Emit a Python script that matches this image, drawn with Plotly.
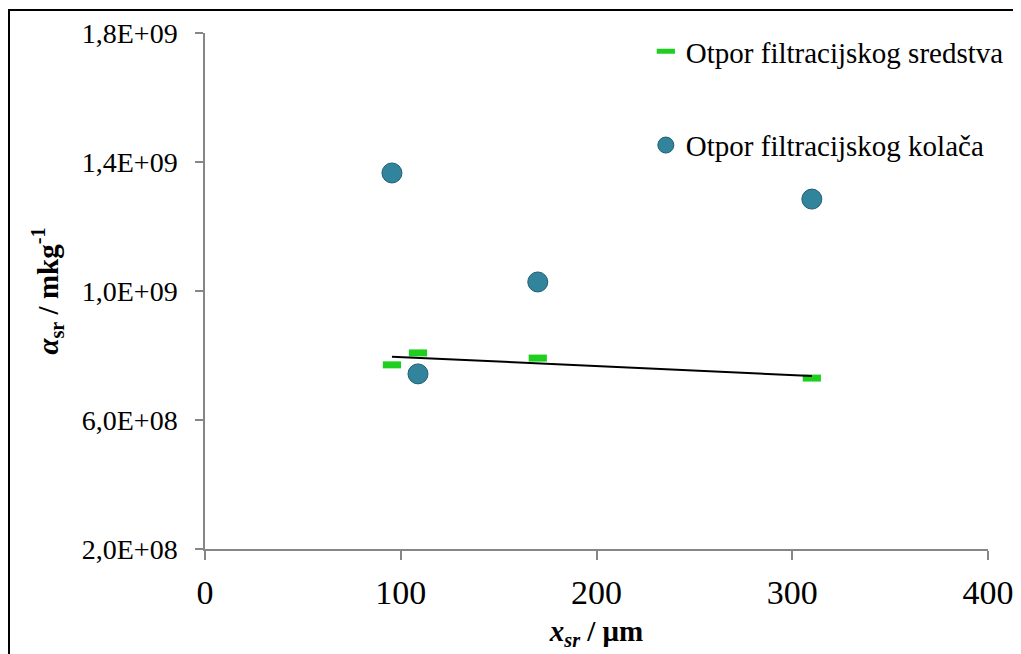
import numpy as np
import plotly.graph_objects as go

# Data
x_medium = [95.5, 108.8, 170.0, 310.0]
y_medium = [7.71e8, 8.08e8, 7.92e8, 7.30e8]
x_cake = [95.5, 108.8, 170.0, 310.0]
y_cake = [1.366e9, 7.43e8, 1.028e9, 1.285e9]

y_tickvals = [2e8, 6e8, 1e9, 1.4e9, 1.8e9]
y_ticktext = ["2,0E+08", "6,0E+08", "1,0E+09", "1,4E+09", "1,8E+09"]
x_tickvals = [0, 100, 200, 300, 400]

name_medium = "Otpor filtracijskog sredstva"
name_cake = "Otpor filtracijskog kolača"

# Linear trendline (least squares) through the filter-medium series
coef = np.polyfit(x_medium, y_medium, 1)
trend_x = [min(x_medium), max(x_medium)]
trend_y = [float(np.polyval(coef, v)) for v in trend_x]

FONT = "'Liberation Serif', 'Times New Roman', serif"
AXIS_COLOR = "#868686"

fig = go.Figure()
fig.add_trace(go.Scatter(
    x=x_medium, y=y_medium, mode="markers", name=name_medium,
    legendgroup="a",
    marker=dict(symbol="line-ew", size=13, color="#1FCF1F",
                line=dict(color="#1FCF1F", width=7)),
))
fig.add_trace(go.Scatter(
    x=x_cake, y=y_cake, mode="markers", name=name_cake,
    legendgroup="b",
    marker=dict(symbol="circle", size=20, color="#31849B",
                line=dict(color="#215E70", width=1)),
))
fig.add_trace(go.Scatter(
    x=trend_x, y=trend_y, mode="lines", showlegend=False,
    line=dict(color="black", width=2), hoverinfo="skip",
))

fig.update_layout(
    width=1013, height=646,
    margin=dict(l=197, r=33, t=25, b=105, autoexpand=False),
    paper_bgcolor="white", plot_bgcolor="white",
    font=dict(family=FONT, color="black"),
    showlegend=True,
    legend=dict(
        x=0.563, y=1.0 + 7 / 516, xanchor="left", yanchor="top",
        font=dict(family=FONT, size=29, color="black"),
        tracegroupgap=53, traceorder="grouped",
        bgcolor="rgba(0,0,0,0)",
    ),
    xaxis=dict(
        range=[0, 400], tickvals=x_tickvals,
        showgrid=False, zeroline=False,
        showline=True, linecolor=AXIS_COLOR, linewidth=1.5,
        ticks="outside", ticklen=9, tickcolor=AXIS_COLOR, tickwidth=1.5,
        tickfont=dict(family=FONT, size=34, color="black"),
        ticklabelstandoff=3,
        title=dict(text="<b><i>x<sub>sr</sub></i> / μm</b>",
                   font=dict(family=FONT, size=29, color="black"),
                   standoff=11),
        automargin=False,
    ),
    yaxis=dict(
        range=[2e8, 1.8e9], tickvals=y_tickvals, ticktext=y_ticktext,
        showgrid=False, zeroline=False,
        showline=True, linecolor=AXIS_COLOR, linewidth=1.5,
        ticks="outside", ticklen=8, tickcolor=AXIS_COLOR, tickwidth=1.5,
        tickfont=dict(family=FONT, size=28, color="black"),
        ticklabelstandoff=12,
        title=dict(text="<b><i>α</i><sub>sr</sub> / mkg<sup>-1</sup></b>",
                   font=dict(family=FONT, size=29, color="black"),
                   standoff=15),
        automargin=False,
    ),
    shapes=[dict(
        type="rect", xref="paper", yref="paper",
        x0=(1 - 197) / 783, x1=1.2, y0=-0.4, y1=1 + (25 - 2) / 516,
        line=dict(color="black", width=2), fillcolor="rgba(0,0,0,0)",
        layer="below",
    )],
)

fig.write_html("out.html")
